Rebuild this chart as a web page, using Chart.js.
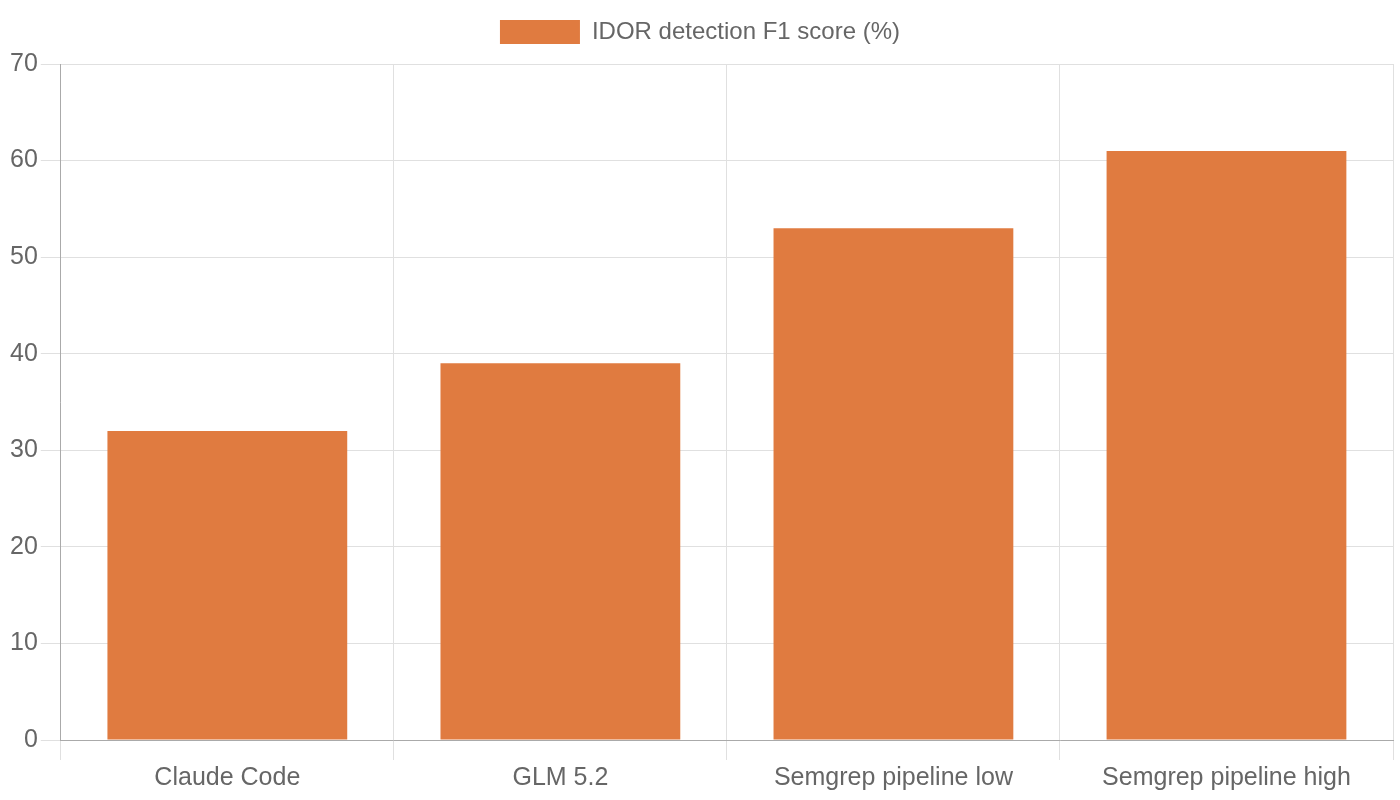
<!DOCTYPE html>
<html>
<head>
<meta charset="utf-8">
<script src="https://cdn.jsdelivr.net/npm/chart.js@4/dist/chart.umd.min.js"></script>
<style>
  html, body { margin: 0; padding: 0; background: #fff; }
  #wrap { width: 1400px; height: 800px; }
</style>
</head>
<body>
<div id="wrap"><canvas id="chart"></canvas></div>
<script>
// chart data
const labels = ['Claude Code', 'GLM 5.2', 'Semgrep pipeline low', 'Semgrep pipeline high'];
const f1Scores = [32, 39, 53, 61];
const seriesLabel = 'IDOR detection F1 score (%)';

Chart.defaults.font.family = '"Liberation Sans", Arial, sans-serif';
Chart.defaults.font.size = 24;
Chart.defaults.color = '#666';

// a bit more room under the legend
const legendGap = {
    id: 'legendGap',
    beforeInit(chart) {
        const origFit = chart.legend.fit;
        chart.legend.fit = function () {
            origFit.bind(chart.legend)();
            this.height += 10;
        };
    }
};

const ctx = document.getElementById('chart').getContext('2d');
new Chart(ctx, {
    type: 'bar',
    data: {
        labels: labels,
        datasets: [{
            label: seriesLabel,
            data: f1Scores,
            backgroundColor: '#e07b40',
            borderWidth: 0
        }]
    },
    options: {
        responsive: true,
        maintainAspectRatio: false,
        animation: false,
        layout: {
            padding: { top: 10, left: 7, right: 7, bottom: 4 }
        },
        plugins: {
            legend: {
                display: true,
                labels: { boxWidth: 80 }
            },
            tooltip: { enabled: false }
        },
        scales: {
            x: {
                ticks: { font: { size: 25 } },
                grid: { color: '#e0e0e0', tickLength: 20 },
                border: { color: '#aaa' }
            },
            y: {
                min: 0,
                max: 70,
                ticks: { stepSize: 10, font: { size: 25 } },
                grid: { color: '#e0e0e0', tickLength: 20 },
                border: { color: '#aaa' }
            }
        }
    },
    plugins: [legendGap]
});
</script>
</body>
</html>
